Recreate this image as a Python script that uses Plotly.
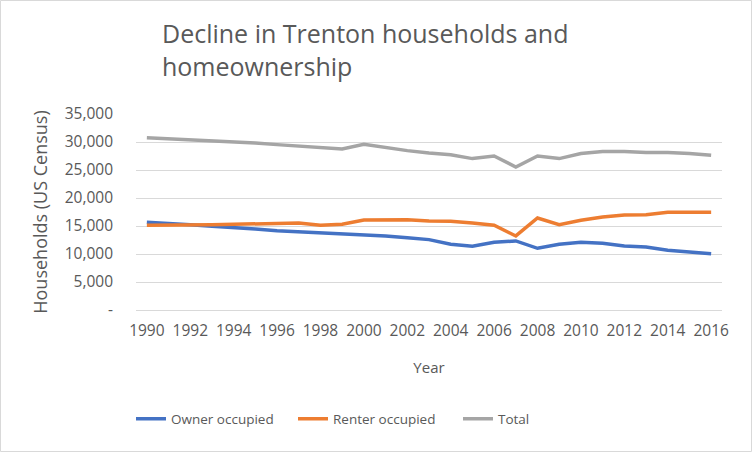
import plotly.graph_objects as go

years = list(range(1990, 2017))
owner = [15660, 15480, 15240, 14950, 14770, 14470, 14170, 14000, 13820, 13640,
         13460, 13220, 12920, 12570, 11730, 11375, 12090, 12330, 11020, 11730,
         12090, 11910, 11430, 11250, 10660, 10420, 10060]
renter = [15125, 15125, 15240, 15240, 15300, 15420, 15480, 15540, 15125, 15300,
          16080, 16130, 16130, 15900, 15840, 15540, 15125, 13220, 16430, 15240,
          16020, 16610, 16970, 17030, 17450, 17450, 17450]
total = [30780, 30600, 30420, 30240, 30070, 29830, 29530, 29290, 28930, 28750,
         29590, 29000, 28460, 28040, 27740, 27036, 27500, 25540, 27500, 27036,
         27930, 28290, 28290, 28110, 28110, 27930, 27620]
ytick_vals = [0, 5000, 10000, 15000, 20000, 25000, 30000, 35000]
ytick_text = ["-", "5,000", "10,000", "15,000", "20,000", "25,000", "30,000", "35,000"]
xtick_vals = list(range(1990, 2017, 2))

FONT = "Open Sans"
TXT = "#595959"

L, R, T, B = 136, 30, 114, 142
W, H = 752, 452
pw, ph = W - L - R, H - T - B

fig = go.Figure()
series = [("Owner occupied", owner, "#4472C4", "legend", 131),
          ("Renter occupied", renter, "#ED7D31", "legend2", 293),
          ("Total", total, "#A5A5A5", "legend3", 458)]
legends = {}
for name, vals, col, lg, lx in series:
    fig.add_trace(go.Scatter(x=years, y=vals, mode="lines", name=name,
                             line=dict(color=col, width=3.5), legend=lg))
    legends[lg] = dict(orientation="h", x=(lx - L) / pw, xanchor="left",
                       y=(T + ph - 419) / ph, yanchor="middle",
                       font=dict(size=13.5, color=TXT), bgcolor="rgba(0,0,0,0)")

fig.update_layout(
    width=W, height=H,
    margin=dict(l=L, r=R, t=T, b=B, autoexpand=False),
    paper_bgcolor="white", plot_bgcolor="white",
    font=dict(family=FONT, color=TXT, size=14),
    showlegend=True,
    xaxis=dict(range=[1989.5, 2016.5], tickvals=xtick_vals,
               showgrid=False, showline=True, linecolor="#d9d9d9", linewidth=1,
               ticks="", tickfont=dict(size=15.5, color=TXT), ticklabelstandoff=6,
               title=dict(text="Year", font=dict(size=15, color=TXT), standoff=22),
               zeroline=False, fixedrange=True),
    yaxis=dict(range=[0, 35000], tickvals=ytick_vals, ticktext=ytick_text,
               showgrid=True, gridcolor="#d9d9d9", gridwidth=1,
               showline=False, zeroline=False, ticks="",
               tickfont=dict(size=15.5, color=TXT), ticklabelstandoff=22,
               title=dict(text="Households (US Census)", font=dict(size=18, color=TXT),
                          standoff=12),
               fixedrange=True),
    annotations=[dict(text="Decline in Trenton households and<br>homeownership",
                      xref="paper", yref="paper",
                      x=(160 - L) / pw, y=(T + ph - 14) / ph,
                      xanchor="left", yanchor="top", align="left", showarrow=False,
                      font=dict(size=25, color=TXT, family=FONT))],
    shapes=[dict(type="rect", xref="paper", yref="paper",
                 x0=(0.5 - L) / pw, x1=(W - 0.5 - L) / pw,
                 y0=(T + ph - (H - 0.5)) / ph, y1=(T + ph - 0.5) / ph,
                 line=dict(color="#d9d9d9", width=1))],
    **legends,
)

fig.write_html("out.html", config={"displayModeBar": False},
               post_script="document.body.style.margin='0';document.body.style.overflow='hidden';")
